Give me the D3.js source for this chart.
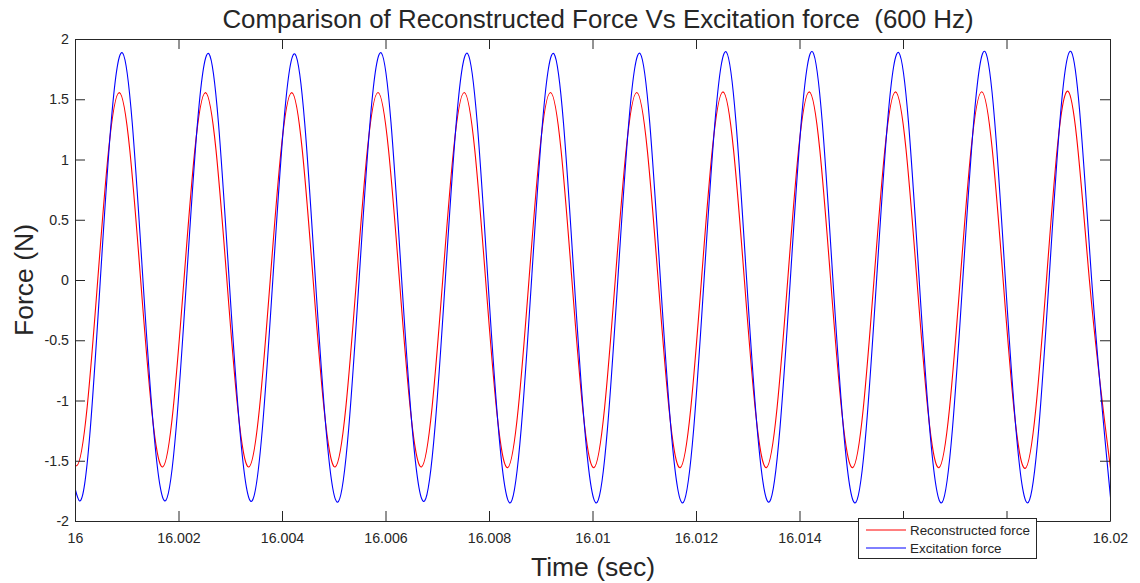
<!DOCTYPE html>
<html>
<head>
<meta charset="utf-8">
<script src="https://cdn.jsdelivr.net/npm/d3@7/dist/d3.min.js"></script>
<style>
  body { margin: 0; background: #fff; }
  svg text { font-family: "Liberation Sans", Arial, Helvetica, sans-serif; fill: #262626; }
</style>
</head>
<body>
<script>
// Start of the time window (sec); sample times below are ms after it
var startTime = 16;

// Reconstructed force: edge value, troughs, zero crossings and peaks
var reconTimeMs = [0.000, 0.023, 0.429, 0.846, 1.260, 1.685, 2.095, 2.512, 2.926, 3.351, 3.762,
                   4.179, 4.593, 5.018, 5.429, 5.846, 6.260, 6.685, 7.095, 7.512, 7.926,
                   8.351, 8.762, 9.179, 9.593, 10.018, 10.429, 10.846, 11.260, 11.685, 12.095,
                   12.512, 12.926, 13.351, 13.762, 14.179, 14.593, 15.018, 15.429, 15.846, 16.260,
                   16.685, 17.095, 17.512, 17.926, 18.351, 18.762, 19.179, 19.593, 20.000];
var reconForce = [-1.535, -1.537, 0, 1.559, 0, -1.547, 0, 1.559, 0, -1.547, 0,
                  1.559, 0, -1.547, 0, 1.560, 0, -1.547, 0, 1.560, 0,
                  -1.553, 0, 1.560, 0, -1.553, 0, 1.560, 0, -1.553, 0,
                  1.565, 0, -1.553, 0, 1.565, 0, -1.553, 0, 1.565, 0,
                  -1.553, 0, 1.567, 0, -1.559, 0, 1.570, 0, -1.557];

// Excitation force
var excitTimeMs = [0.000, 0.079, 0.479, 0.914, 1.304, 1.747, 2.145, 2.580, 2.970, 3.413,
                   3.812, 4.247, 4.637, 5.080, 5.479, 5.914, 6.304, 6.747, 7.145, 7.580,
                   7.970, 8.413, 8.812, 9.247, 9.637, 10.080, 10.479, 10.914, 11.304, 11.747,
                   12.145, 12.580, 12.970, 13.413, 13.812, 14.247, 14.637, 15.080, 15.479, 15.914,
                   16.304, 16.747, 17.145, 17.580, 17.970, 18.413, 18.812, 19.247, 19.637, 20.000];
var excitForce = [-1.740, -1.829, 0, 1.886, 0, -1.824, 0, 1.880, 0, -1.829,
                  0, 1.877, 0, -1.835, 0, 1.886, 0, -1.829, 0, 1.882,
                  0, -1.841, 0, 1.880, 0, -1.841, 0, 1.882, 0, -1.841,
                  0, 1.894, 0, -1.835, 0, 1.896, 0, -1.841, 0, 1.888,
                  0, -1.841, 0, 1.898, 0, -1.841, 0, 1.894, 0, -1.800];

var seriesNames = ["Reconstructed force", "Excitation force"];

// Ticks (16.016 and 16.018 sit behind the legend, so no label shows there)
var xTicks = [16, 16.002, 16.004, 16.006, 16.008, 16.01, 16.012, 16.014, 16.016, 16.018, 16.02];
var xTickLabels = ["16", "16.002", "16.004", "16.006", "16.008", "16.01", "16.012", "16.014", "", "", "16.02"];
var yTicks = [-2, -1.5, -1, -0.5, 0, 0.5, 1, 1.5, 2];
var yTickLabels = ["-2", "-1.5", "-1", "-0.5", "0", "0.5", "1", "1.5", "2"];

// Dimensions and margins
var margin = {top: 39, right: 30, bottom: 62, left: 75},
    width = 1035,
    height = 482;

var svg = d3.select("body").append("svg")
    .attr("width", 1140)
    .attr("height", 583);

var g = svg.append("g")
    .attr("transform", "translate(" + margin.left + "," + margin.top + ")");

var x = d3.scaleLinear().domain([16, 16.02]).range([0, width]);
var y = d3.scaleLinear().domain([-2, 2]).range([height, 0]);

// Smooth curve through the samples: cubic spline y(x), written as bezier segments
function splinePath(points) {
    var px = points.map(function(d) { return x(d[0]) + 0.5; }),
        py = points.map(function(d) { return y(d[1]) + 0.5; }),
        n = px.length, h = [], b = [], c = [], r = [], M = [], i;
    for (i = 0; i < n - 1; i++) h[i] = px[i + 1] - px[i];
    for (i = 1; i < n - 1; i++) {
        b[i] = 2 * (h[i - 1] + h[i]);
        c[i] = h[i];
        r[i] = 6 * ((py[i + 1] - py[i]) / h[i] - (py[i] - py[i - 1]) / h[i - 1]);
    }
    for (i = 2; i < n - 1; i++) {
        var w = h[i - 1] / b[i - 1];
        b[i] -= w * c[i - 1];
        r[i] -= w * r[i - 1];
    }
    M[0] = 0; M[n - 1] = 0;
    for (i = n - 2; i >= 1; i--) M[i] = (r[i] - c[i] * M[i + 1]) / b[i];

    var p = d3.path();
    p.moveTo(px[0], py[0]);
    for (i = 0; i < n - 1; i++) {
        var s = (py[i + 1] - py[i]) / h[i],
            s0 = s - h[i] * (2 * M[i] + M[i + 1]) / 6,
            s1 = s + h[i] * (M[i] + 2 * M[i + 1]) / 6;
        p.bezierCurveTo(px[i] + h[i] / 3, py[i] + s0 * h[i] / 3,
                        px[i + 1] - h[i] / 3, py[i + 1] - s1 * h[i] / 3,
                        px[i + 1], py[i + 1]);
    }
    return p.toString();
}

// Lines, clipped to the axes box
g.append("clipPath").attr("id", "plotclip")
    .append("rect").attr("x", 0).attr("y", 0).attr("width", width + 1).attr("height", height + 1);

var series = [
    {name: seriesNames[0], color: "#ff0000",
     points: reconTimeMs.map(function(t, i) { return [startTime + t / 1000, reconForce[i]]; })},
    {name: seriesNames[1], color: "#0000ff",
     points: excitTimeMs.map(function(t, i) { return [startTime + t / 1000, excitForce[i]]; })}
];

g.append("g").attr("clip-path", "url(#plotclip)")
    .selectAll("path")
    .data(series)
    .enter().append("path")
    .attr("d", function(d) { return splinePath(d.points); })
    .attr("fill", "none")
    .attr("stroke", function(d) { return d.color; })
    .attr("stroke-width", 1.1);

// Axes (ticks point inward, box on)
function styleAxis(sel) {
    sel.selectAll("path, line").attr("stroke", "#262626");
    sel.selectAll("text").attr("fill", "#262626").style("font-size", "14.2px")
        .attr("font-family", null);
}

g.append("g")
    .attr("transform", "translate(0," + height + ")")
    .call(d3.axisBottom(x).tickValues(xTicks)
        .tickFormat(function(d, i) { return xTickLabels[i]; })
        .tickSizeInner(-10).tickSizeOuter(0).tickPadding(12))
    .call(styleAxis);

g.append("g")
    .call(d3.axisTop(x).tickValues(xTicks).tickFormat("")
        .tickSizeInner(-10).tickSizeOuter(0))
    .call(styleAxis);

g.append("g")
    .call(d3.axisLeft(y).tickValues(yTicks)
        .tickFormat(function(d, i) { return yTickLabels[i]; })
        .tickSizeInner(-10).tickSizeOuter(0).tickPadding(6))
    .call(styleAxis);

g.append("g")
    .attr("transform", "translate(" + width + ",0)")
    .call(d3.axisRight(y).tickValues(yTicks).tickFormat("")
        .tickSizeInner(-10).tickSizeOuter(0))
    .call(styleAxis);

// Title and axis labels
svg.append("text")
    .attr("x", 598)
    .attr("y", 28)
    .attr("text-anchor", "middle")
    .style("font-size", "25.9px")
    .style("white-space", "pre")
    .text("Comparison of Reconstructed Force Vs Excitation force  (600 Hz)");

svg.append("text")
    .attr("x", margin.left + width / 2 + 0.5)
    .attr("y", 576)
    .attr("text-anchor", "middle")
    .style("font-size", "26.5px")
    .text("Time (sec)");

svg.append("text")
    .attr("transform", "translate(33," + (margin.top + height / 2) + ") rotate(-90)")
    .attr("text-anchor", "middle")
    .style("font-size", "26.5px")
    .text("Force (N)");

// Legend
var legend = svg.append("g")
    .attr("transform", "translate(858.5,518.5)");

legend.append("rect")
    .attr("width", 178)
    .attr("height", 40)
    .attr("fill", "#fff")
    .attr("stroke", "#262626")
    .attr("stroke-width", 1);

var items = legend.selectAll("g.item")
    .data(series)
    .enter().append("g")
    .attr("class", "item")
    .attr("transform", function(d, i) { return "translate(0," + (11.5 + i * 18) + ")"; });

items.append("line")
    .attr("x1", 7.5).attr("x2", 47.5)
    .attr("stroke", function(d) { return d.color; })
    .attr("stroke-width", 1);

items.append("text")
    .attr("x", 51.5)
    .attr("dy", "0.35em")
    .style("font-size", "13.4px")
    .text(function(d) { return d.name; });
</script>
</body>
</html>
